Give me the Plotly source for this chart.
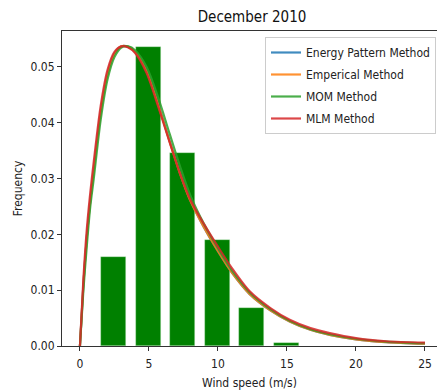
import plotly.graph_objects as go

# Histogram of December 2010 wind speeds (bar centres, heights)
bin_centers = [2.45, 4.95, 7.45, 9.95, 12.45, 14.95]
bin_freq = [0.0159, 0.0536, 0.0345, 0.0190, 0.0069, 0.0005]

# Fitted Weibull density curves, sampled along wind speed
speed = [0, 0.25, 0.5, 0.75, 1.0, 1.5, 2.0, 2.5, 3.0, 3.5, 4.0, 4.83, 5.67,
         6.5, 7.25, 8.0, 9.0, 10.0, 11.0, 12.3, 13.8, 15.2, 16.7, 18.1,
         20.0, 22.2, 25.0]
energy_pattern = [0, 0.0110, 0.0196, 0.0261, 0.0316, 0.0419, 0.0488, 0.0524,
                  0.0537, 0.0536, 0.0527, 0.0492, 0.0433, 0.0367, 0.0310,
                  0.0261, 0.0212, 0.0170, 0.0132, 0.0093, 0.0064, 0.0044,
                  0.0029, 0.0020, 0.0012, 0.0007, 0.0004]
emperical = [0, 0.0110, 0.0195, 0.0260, 0.0315, 0.0418, 0.0487, 0.0523,
             0.0537, 0.0536, 0.0527, 0.0492, 0.0432, 0.0366, 0.0309,
             0.0260, 0.0212, 0.0170, 0.0132, 0.0093, 0.0064, 0.0044,
             0.0029, 0.0020, 0.0012, 0.0007, 0.0004]
mom = [0, 0.0100, 0.0180, 0.0250, 0.0300, 0.0405, 0.0478, 0.0518,
       0.0535, 0.0537, 0.0530, 0.0500, 0.0445, 0.0380, 0.0322,
       0.0270, 0.0218, 0.0175, 0.0136, 0.0096, 0.0066, 0.0045,
       0.0030, 0.0021, 0.0013, 0.0008, 0.0005]
mlm = [0, 0.0120, 0.0210, 0.0275, 0.0330, 0.0430, 0.0495, 0.0527,
       0.0537, 0.0535, 0.0525, 0.0489, 0.0429, 0.0365, 0.0309,
       0.0262, 0.0218, 0.0178, 0.0140, 0.0098, 0.0068, 0.0047,
       0.0032, 0.0023, 0.0014, 0.00085, 0.0006]

series = [
    ("Energy Pattern Method", energy_pattern, "#1f77b4"),
    ("Emperical Method", emperical, "#ff7f0e"),
    ("MOM Method", mom, "#2ca02c"),
    ("MLM Method", mlm, "#d62728"),
]

FONT = "DejaVu Sans Condensed, DejaVu Sans, sans-serif"

fig = go.Figure()
fig.add_trace(go.Bar(
    x=bin_centers, y=bin_freq, width=1.8,
    marker=dict(color="#008000", line=dict(color="rgba(200,235,200,0.6)", width=0.6)),
    showlegend=False,
))
for i, (name, vals, color) in enumerate(series):
    fig.add_trace(go.Scatter(
        x=speed, y=vals, mode="lines", name=name, legendgroup=f"g{i}",
        line=dict(color=color, width=2.2, shape="spline", smoothing=0.8),
        opacity=0.85,
    ))

W, H = 437, 391
L, R, T, B = 62, 0, 31, 45
fig.update_layout(
    width=W, height=H,
    margin=dict(l=L, r=R, t=T, b=B, pad=0),
    paper_bgcolor="white", plot_bgcolor="white",
    font=dict(family=FONT, size=12, color="#222"),
    title=dict(text="December 2010", x=252 / W, xanchor="center",
               xref="container",
               y=1 - 17 / H, yanchor="middle",
               font=dict(family=FONT, size=15, color="#111")),
    bargap=0,
    showlegend=True,
    legend=dict(
        x=(265 - L) / (W - L - R), xanchor="left",
        y=1 - (37 - T) / (H - T - B), yanchor="top",
        bgcolor="rgba(255,255,255,0.85)", bordercolor="#cccccc", borderwidth=1,
        font=dict(family=FONT, size=12, color="#222"),
        itemwidth=30, tracegroupgap=3,
    ),
    xaxis=dict(
        range=[-1.30, 25.87], tickvals=[0, 5, 10, 15, 20, 25],
        showgrid=False, zeroline=False,
        showline=True, linecolor="#333", linewidth=1, mirror=True,
        ticks="outside", ticklen=4, tickcolor="#333",
        ticklabelstandoff=3,
        title=dict(text="Wind speed (m/s)", standoff=8,
                   font=dict(family=FONT, size=12, color="#222")),
    ),
    yaxis=dict(
        range=[0, 0.05645], tickvals=[0, 0.01, 0.02, 0.03, 0.04, 0.05],
        tickformat=".2f",
        showgrid=False, zeroline=False,
        showline=True, linecolor="#333", linewidth=1, mirror=False,
        ticks="outside", ticklen=4, tickcolor="#333",
        title=dict(text="Frequency", standoff=5,
                   font=dict(family=FONT, size=12, color="#222")),
    ),
)

fig.write_html("out.html")
